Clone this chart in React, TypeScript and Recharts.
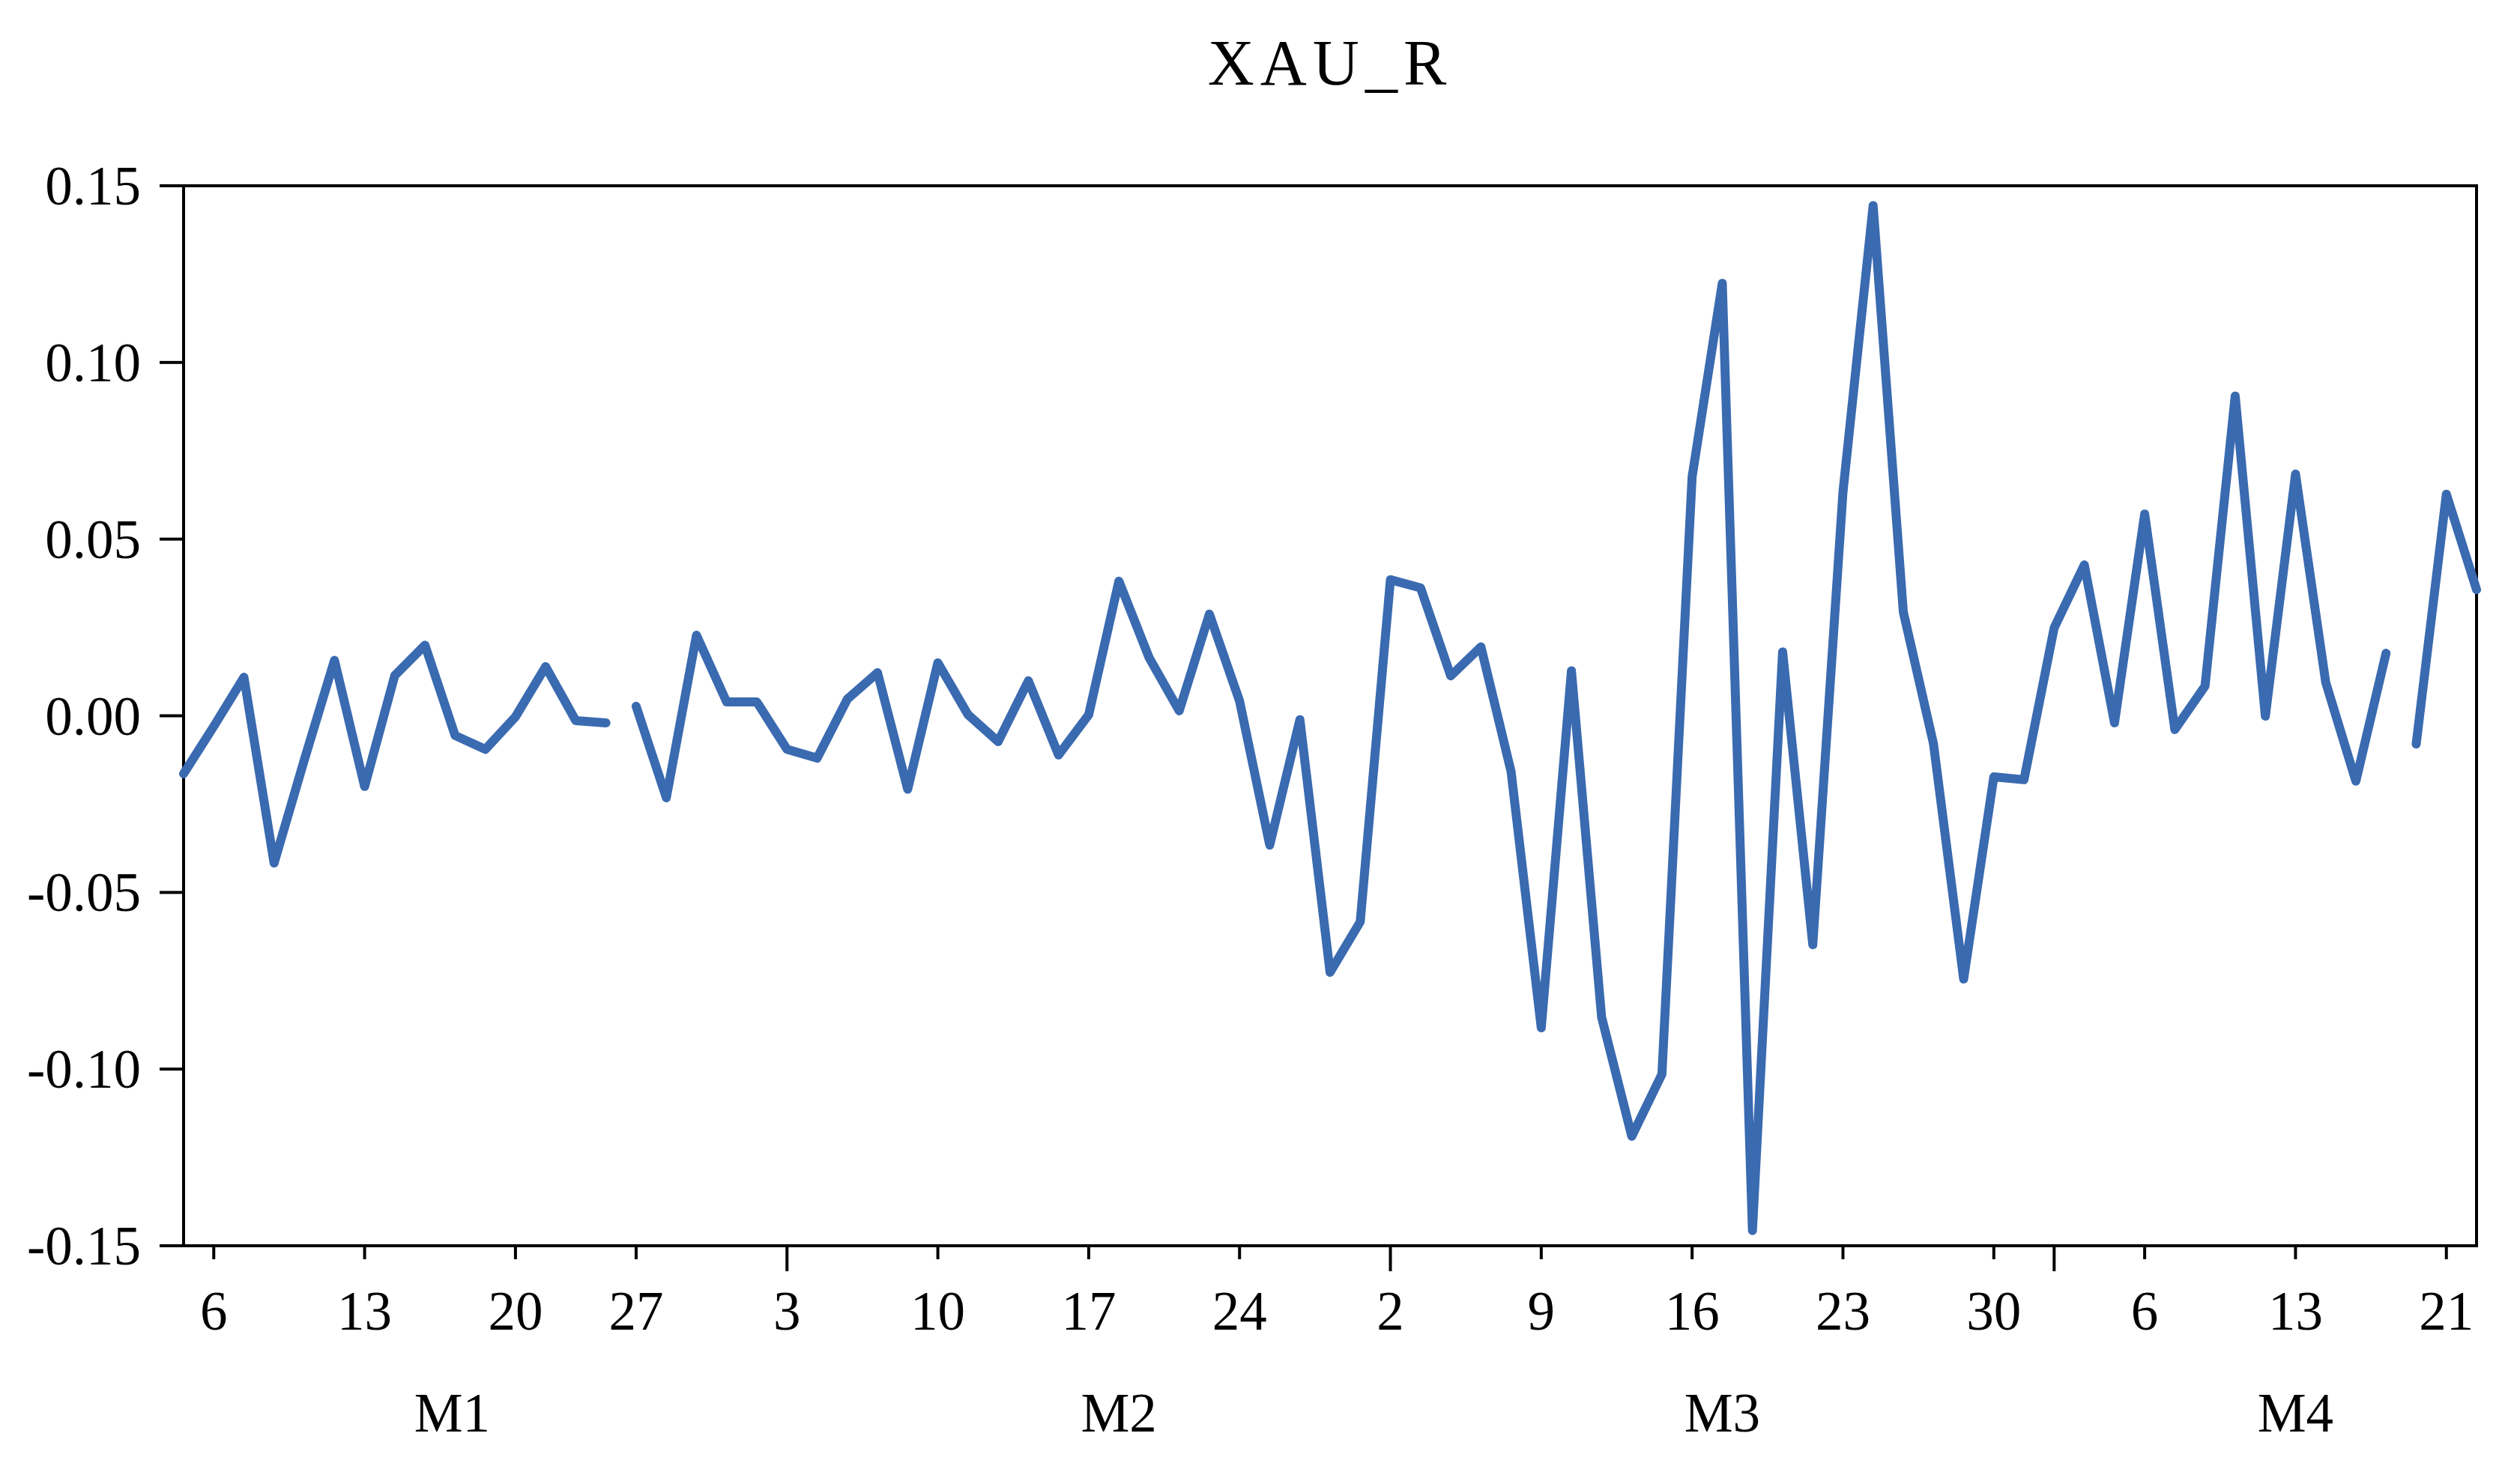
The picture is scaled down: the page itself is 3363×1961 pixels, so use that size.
import React from 'react';
import { LineChart, Line, XAxis, YAxis, ReferenceArea } from 'recharts';

// daily gold returns, one value per trading day (index 0..76)
const values = [
  -0.0164, -0.003, 0.0109, -0.0417, -0.0125, 0.0157, -0.02, 0.0114, 0.02, -0.0056,
  -0.0095, -0.0003, 0.0139, -0.0014, -0.002, 0.0027, -0.0232, 0.0228, 0.0039, 0.0039,
  -0.0095, -0.012, 0.0047, 0.0122, -0.0208, 0.015, 0.0003, -0.0073, 0.0099, -0.0111,
  0.0003, 0.0381, 0.0165, 0.0014, 0.0288, 0.0042, -0.0366, -0.0011, -0.0726, -0.0583,
  0.0385, 0.0362, 0.0113, 0.0195, -0.0158, -0.0883, 0.0127, -0.0853, -0.119, -0.1014,
  0.0676, 0.1224, -0.1457, 0.0181, -0.0648, 0.0633, 0.1444, 0.0294, -0.0079, -0.0745,
  -0.0173, -0.0181, 0.0249, 0.0427, -0.002, 0.0571, -0.0039, 0.0084, 0.0905, -0.0001,
  0.0684, 0.0095, -0.0185, 0.0177, -0.008, 0.0627, 0.0357,
];

// the line is not drawn between these observations and the next one
const breaksAfter = [14, 73];

const dayTicks = [1, 6, 11, 15, 20, 25, 30, 35, 40, 45, 50, 55, 60, 62, 65, 70, 75];
const dayLabels = ['6', '13', '20', '27', '3', '10', '17', '24', '2', '9', '16', '23', '30', '', '6', '13', '21'];
const monthStarts = [20, 40, 62];

const monthPos = [8.9, 31, 51, 70];
const monthLabels = ['M1', 'M2', 'M3', 'M4'];

const yTicks = [-0.15, -0.1, -0.05, 0, 0.05, 0.1, 0.15];

const FONT = '"Liberation Serif", "Times New Roman", serif';
const BLUE = '#3A6AB0';

const data = values.map((v, i) => {
  const seg = breaksAfter.filter((b) => i > b).length;
  return { i, a: seg % 2 === 0 ? v : null, b: seg % 2 === 1 ? v : null };
});

const DayTick = (props: any) => {
  const { x, y, payload } = props;
  const idx = dayTicks.indexOf(payload.value);
  const long = monthStarts.includes(payload.value);
  return (
    <g>
      <line x1={x} x2={x} y1={y} y2={y + (long ? 34 : 18)} stroke="#000" strokeWidth={4} />
      <text x={x} y={y + 112} textAnchor="middle" fontSize={73} fontFamily={FONT} fill="#000">
        {dayLabels[idx]}
      </text>
    </g>
  );
};

const MonthTick = (props: any) => {
  const { x, y, payload } = props;
  const idx = monthPos.indexOf(payload.value);
  return (
    <text x={x} y={y + 98} textAnchor="middle" fontSize={73} fontFamily={FONT} fill="#000">
      {monthLabels[idx]}
    </text>
  );
};

const ValueTick = (props: any) => {
  const { x, y, payload } = props;
  return (
    <g>
      <line x1={x - 32} x2={x} y1={y} y2={y} stroke="#000" strokeWidth={4} />
      <text x={x - 57} y={y + 25} textAnchor="end" fontSize={73} fontFamily={FONT} fill="#000">
        {Number(payload.value).toFixed(2)}
      </text>
    </g>
  );
};

const App = () => {
  return (
    <div style={{ position: 'absolute', left: 0, top: 0, width: 3363, height: 1961, background: '#fff' }}>
      <LineChart width={3363} height={1961} data={data} margin={{ top: 248, right: 58, left: 0, bottom: 0 }}>
        <XAxis
          xAxisId="day"
          type="number"
          dataKey="i"
          domain={[0, 76]}
          ticks={dayTicks}
          interval={0}
          height={150}
          axisLine={false}
          tickLine={false}
          tickSize={0}
          tickMargin={0}
          tick={<DayTick />}
        />
        <XAxis
          xAxisId="month"
          type="number"
          dataKey="i"
          domain={[0, 76]}
          ticks={monthPos}
          interval={0}
          height={148}
          axisLine={false}
          tickLine={false}
          tickSize={0}
          tickMargin={0}
          tick={<MonthTick />}
        />
        <YAxis
          type="number"
          domain={[-0.15, 0.15]}
          ticks={yTicks}
          interval={0}
          width={245}
          axisLine={false}
          tickLine={false}
          tickSize={0}
          tickMargin={0}
          tick={<ValueTick />}
        />
        <ReferenceArea
          xAxisId="day"
          x1={0}
          x2={76}
          y1={-0.15}
          y2={0.15}
          fill="none"
          stroke="#000"
          strokeWidth={4}
        />
        <Line
          xAxisId="day"
          type="linear"
          dataKey="a"
          stroke={BLUE}
          strokeWidth={12}
          strokeLinejoin="round"
          strokeLinecap="round"
          dot={false}
          activeDot={false}
          connectNulls={false}
          isAnimationActive={false}
        />
        <Line
          xAxisId="day"
          type="linear"
          dataKey="b"
          stroke={BLUE}
          strokeWidth={12}
          strokeLinejoin="round"
          strokeLinecap="round"
          dot={false}
          activeDot={false}
          connectNulls={false}
          isAnimationActive={false}
        />
      </LineChart>
      <svg
        width={3363}
        height={200}
        style={{ position: 'absolute', left: 0, top: 0, pointerEvents: 'none' }}
      >
        <text x={1775} y={113} textAnchor="middle" fontSize={86} letterSpacing={8} fontFamily={FONT} fill="#000">
          XAU_R
        </text>
      </svg>
    </div>
  );
};

export default App;
